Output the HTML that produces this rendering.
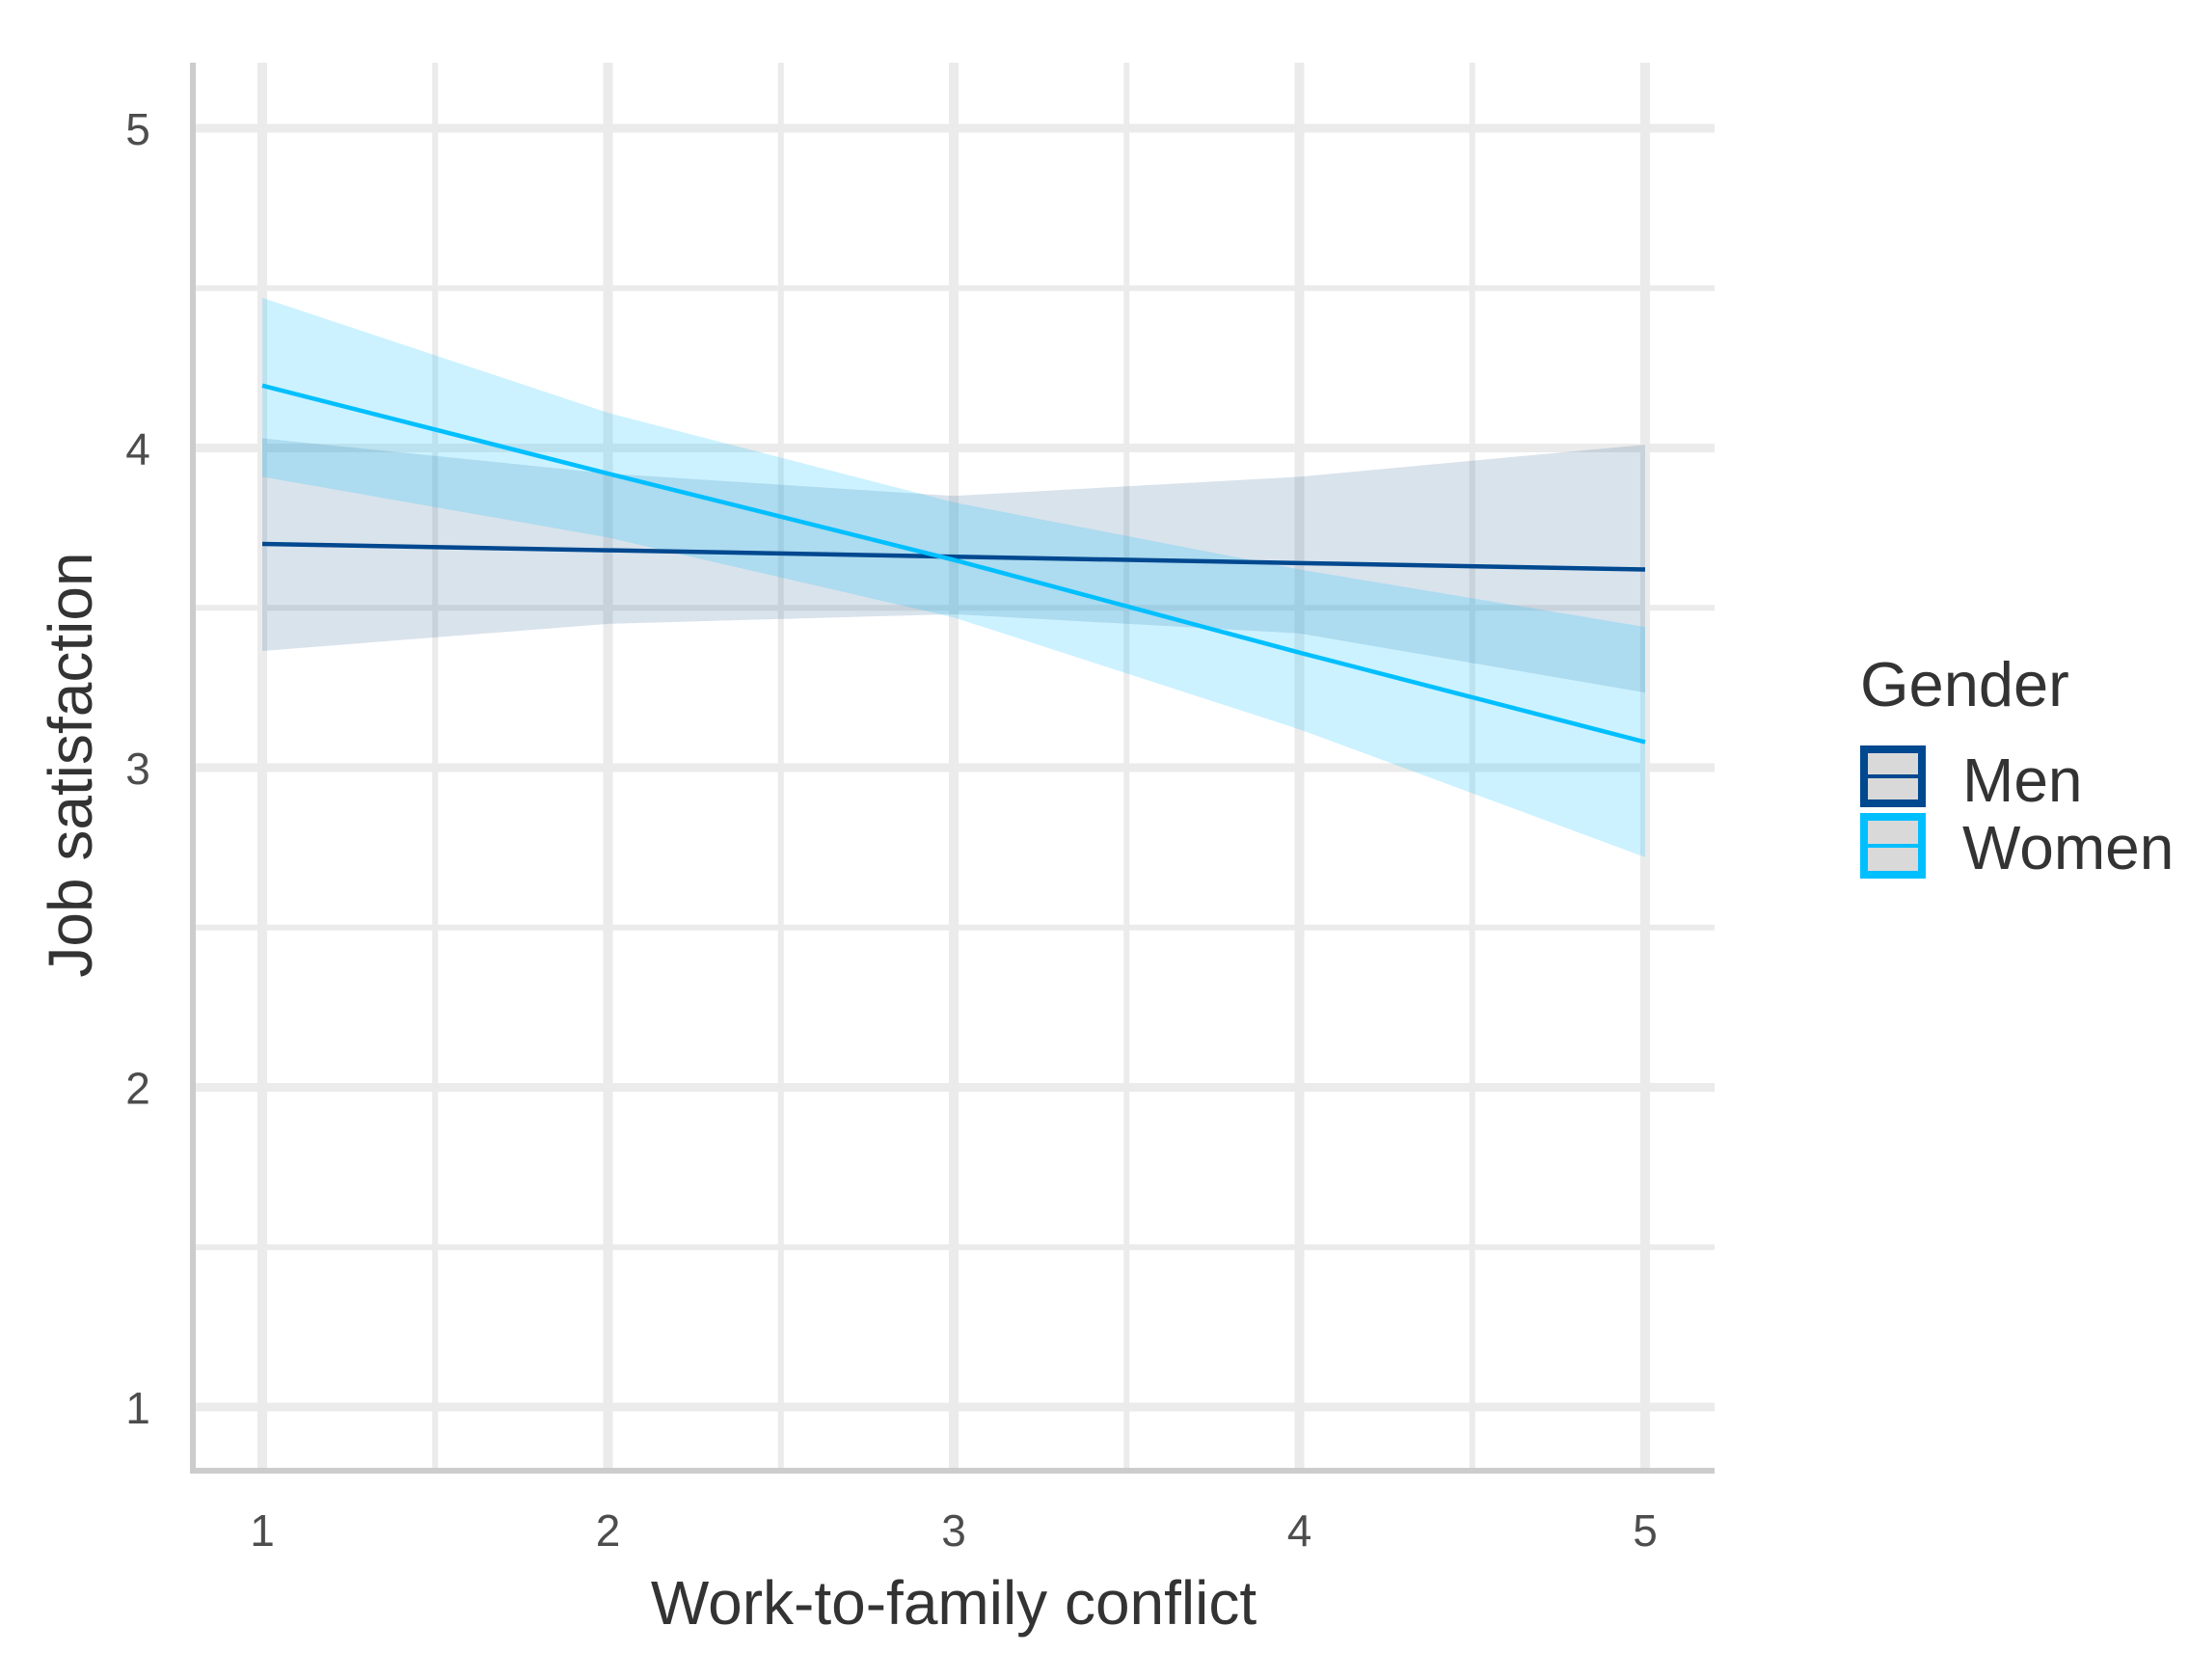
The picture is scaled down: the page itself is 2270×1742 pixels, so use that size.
<!DOCTYPE html>
<html><head><meta charset="utf-8"><style>
html,body{margin:0;padding:0;background:#fff;}
svg{display:block;font-family:"Liberation Sans",sans-serif;}
</style></head><body>
<svg id="chart" width="2270" height="1742" viewBox="0 0 2270 1742" xmlns="http://www.w3.org/2000/svg">
<g id="grid"></g>
<g id="bands"></g>
<g id="lines"></g>
<g id="axes"></g>
<text x="989" y="1684" font-size="64" fill="#333" text-anchor="middle">Work-to-family conflict</text>
<text transform="translate(95,793) rotate(-90)" font-size="64" fill="#333" text-anchor="middle">Job satisfaction</text>
<g>
<text x="1929" y="732" font-size="65" fill="#333">Gender</text>
<g>
<rect x="1933" y="777" width="60" height="56" fill="#d9d9d9" stroke="#00488f" stroke-width="8"/>
<line x1="1933" y1="805" x2="1993" y2="805" stroke="#00488f" stroke-width="4"/>
<text x="2035" y="831" font-size="64" fill="#333">Men</text>
</g>
<g>
<rect x="1933" y="847" width="60" height="60" fill="#d9d9d9" stroke="#00bfff" stroke-width="8"/>
<line x1="1933" y1="877" x2="1993" y2="877" stroke="#00bfff" stroke-width="4"/>
<text x="2035" y="901" font-size="64" fill="#333">Women</text>
</g>
</g>
</svg>
<script>
const xValues = [1, 2, 3, 4, 5];
const menFit = [3.70, 3.68, 3.66, 3.64, 3.62];
const menLower = [3.365, 3.45, 3.48, 3.42, 3.235];
const menUpper = [4.03, 3.92, 3.85, 3.91, 4.01];
const womenFit = [4.195, 3.92, 3.65, 3.36, 3.08];
const womenLower = [3.91, 3.72, 3.47, 3.12, 2.72];
const womenUpper = [4.47, 4.11, 3.83, 3.62, 3.44];
const xTicks = [1, 2, 3, 4, 5];
const yTicks = [1, 2, 3, 4, 5];

const NS = "http://www.w3.org/2000/svg";
const X0 = 200, X1 = 1778, Y0 = 65, Y1 = 1525;
function sx(v){ return 272 + (v - 1) * 358.5; }
function sy(v){ return 1459 - (v - 1) * 331.5; }
function mk(tag, attrs, parent){
  const e = document.createElementNS(NS, tag);
  for (const k in attrs) e.setAttribute(k, attrs[k]);
  parent.appendChild(e); return e;
}
const grid = document.getElementById('grid');
for (let v = 1.5; v <= 4.5; v += 1) {
  const l = mk('line', {x1: X0, x2: X1, y1: sy(v), y2: sy(v), stroke: '#ebebeb', 'stroke-width': 6}, grid);
  
  
  const m = mk('line', {x1: sx(v), x2: sx(v), y1: Y0, y2: Y1, stroke: '#ebebeb', 'stroke-width': 6}, grid);
  
  
}
yTicks.forEach(v => {
  const l = mk('line', {x1: X0, x2: X1, y1: sy(v), y2: sy(v), stroke: '#ebebeb', 'stroke-width': 9}, grid);
  
  
});
xTicks.forEach(v => {
  const l = mk('line', {x1: sx(v), x2: sx(v), y1: Y0, y2: Y1, stroke: '#ebebeb', 'stroke-width': 10}, grid);
  
  
});

function bandPath(lo, hi){
  let d = '';
  xValues.forEach((x, i) => { d += (i ? 'L' : 'M') + sx(x) + ',' + sy(hi[i]); });
  for (let i = xValues.length - 1; i >= 0; i--) d += 'L' + sx(xValues[i]) + ',' + sy(lo[i]);
  return d + 'Z';
}
function linePath(vals){
  return xValues.map((x, i) => (i ? 'L' : 'M') + sx(x) + ',' + sy(vals[i])).join('');
}
const bands = document.getElementById('bands');
const bm = mk('path', {d: bandPath(menLower, menUpper), fill: 'rgb(0,64,128)', 'fill-opacity': 0.15}, bands);


const bw = mk('path', {d: bandPath(womenLower, womenUpper), fill: 'rgb(0,191,255)', 'fill-opacity': 0.2}, bands);



const lines = document.getElementById('lines');
const lm = mk('path', {d: linePath(menFit), fill: 'none', stroke: '#00488f', 'stroke-width': 4.5}, lines);


const lw = mk('path', {d: linePath(womenFit), fill: 'none', stroke: '#00bfff', 'stroke-width': 4.5}, lines);



const axes = document.getElementById('axes');
const ya = mk('line', {x1: X0, x2: X0, y1: Y0, y2: Y1 + 3, stroke: '#cccccc', 'stroke-width': 6}, axes);


const xa = mk('line', {x1: X0 - 3, x2: X1, y1: Y1, y2: Y1, stroke: '#cccccc', 'stroke-width': 6}, axes);


yTicks.forEach(v => {
  const t = mk('text', {x: 143, y: sy(v) + 17, 'font-size': 46, fill: '#4d4d4d', 'text-anchor': 'middle'}, axes);
  
  
  t.textContent = v;
});
xTicks.forEach(v => {
  const t = mk('text', {x: sx(v), y: 1603, 'font-size': 46, fill: '#4d4d4d', 'text-anchor': 'middle'}, axes);
  
  
  t.textContent = v;
});
</script>
</body></html>
